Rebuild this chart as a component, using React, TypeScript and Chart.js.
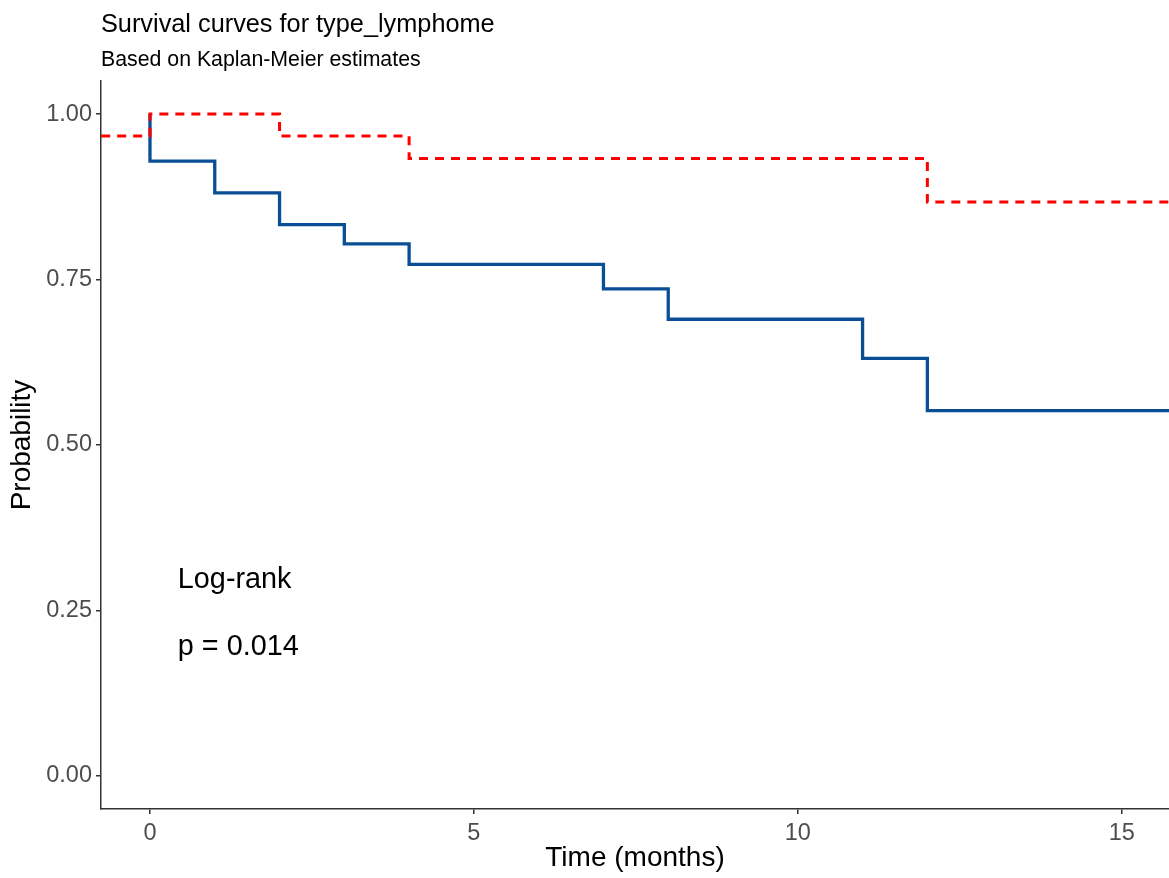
import React, { useEffect, useRef } from "react";
import { Chart, registerables } from "chart.js";

Chart.register(...registerables);

const titleText = "Survival curves for type_lymphome";
const subtitleText = "Based on Kaplan-Meier estimates";
const xAxisTitle = "Time (months)";
const yAxisTitle = "Probability";
const annotLines = ["Log-rank", "p = 0.014"];
const annotPos = { x: 0.43, y: [0.296, 0.195] };

const xTicks = [0, 5, 10, 15];
const yTicks = [0, 0.25, 0.5, 0.75, 1];

// group 1 (red dashed)
const redTimes = [-1, 0, 2, 4, 12, 16];
const redSurv = [0.967, 1.0, 0.967, 0.933, 0.867, 0.867];
// group 2 (blue solid)
const blueTimes = [0, 0, 1, 2, 3, 4, 7, 8, 11, 12, 16];
const blueSurv = [1.0, 0.929, 0.881, 0.833, 0.804, 0.773, 0.736, 0.69, 0.631, 0.552, 0.552];

const FONT = "'Liberation Sans', Arial, sans-serif";

const textPlugin = {
  id: "textPlugin",
  afterDraw(chart: any) {
    const ctx = chart.ctx;
    const area = chart.chartArea;
    const xs = chart.scales.x;
    const ys = chart.scales.y;
    ctx.save();
    ctx.fillStyle = "#000";
    ctx.textBaseline = "middle";
    ctx.textAlign = "left";
    ctx.font = `25.3px ${FONT}`;
    ctx.fillText(titleText, area.left, 25);
    ctx.font = `21.3px ${FONT}`;
    ctx.fillText(subtitleText, area.left, 60);

    ctx.font = `28px ${FONT}`;
    ctx.textAlign = "center";
    ctx.fillText(xAxisTitle, (area.left + area.right) / 2, 858);
    ctx.save();
    ctx.translate(22, (area.top + area.bottom) / 2);
    ctx.rotate(-Math.PI / 2);
    ctx.fillText(yAxisTitle, 0, 0);
    ctx.restore();

    ctx.textAlign = "left";
    ctx.font = `28.8px ${FONT}`;
    annotLines.forEach((t, i) => {
      ctx.fillText(t, xs.getPixelForValue(annotPos.x), ys.getPixelForValue(annotPos.y[i]));
    });
    ctx.restore();
  },
};

export default function App() {
  const ref = useRef<HTMLCanvasElement>(null);
  useEffect(() => {
    const red = redTimes.map((t, i) => ({ x: t, y: redSurv[i] }));
    const blue = blueTimes.map((t, i) => ({ x: t, y: blueSurv[i] }));
    const chart = new Chart(ref.current!, {
      type: "line",
      data: {
        datasets: [
          {
            data: red,
            borderColor: "#FF0000",
            borderWidth: 3,
            borderDash: [9, 7],
            stepped: "before",
            pointRadius: 0,
            fill: false,
          },
          {
            data: blue,
            borderColor: "#0A4F96",
            borderWidth: 3.3,
            stepped: "before",
            pointRadius: 0,
            fill: false,
          },
        ],
      },
      options: {
        animation: false,
        responsive: true,
        maintainAspectRatio: false,
        layout: { padding: { top: 81, right: 0, left: 0, bottom: 0 } },
        plugins: { legend: { display: false }, tooltip: { enabled: false }, title: { display: false } },
        scales: {
          x: {
            type: "linear",
            min: -0.756,
            max: 15.73,
            afterBuildTicks: (s: any) => {
              s.ticks = xTicks.map((v) => ({ value: v }));
            },
            afterFit: (s: any) => {
              s.height = 69;
            },
            ticks: {
              color: "#4D4D4D",
              font: { family: FONT, size: 23.5 },
              padding: 5,
              maxRotation: 0,
              callback: (v: any) => String(v),
            },
            grid: { drawOnChartArea: false, drawTicks: true, tickLength: 5, color: "#333", lineWidth: 1.5 },
            border: { display: true, color: "#333", width: 1.5 },
          },
          y: {
            type: "linear",
            min: -0.05,
            max: 1.05,
            afterBuildTicks: (s: any) => {
              s.ticks = yTicks.map((v) => ({ value: v }));
            },
            afterFit: (s: any) => {
              s.width = 101;
            },
            ticks: {
              color: "#4D4D4D",
              font: { family: FONT, size: 23.5 },
              padding: 4,
              callback: (v: any) => Number(v).toFixed(2),
            },
            grid: { drawOnChartArea: false, drawTicks: true, tickLength: 5, color: "#333", lineWidth: 1.5 },
            border: { display: true, color: "#333", width: 1.5 },
          },
        },
      },
      plugins: [textPlugin],
    } as any);
    return () => chart.destroy();
  }, []);
  return (
    <div style={{ position: "fixed", left: 0, top: 0, width: 1169, height: 878, background: "#fff" }}>
      <canvas ref={ref} />
    </div>
  );
}
